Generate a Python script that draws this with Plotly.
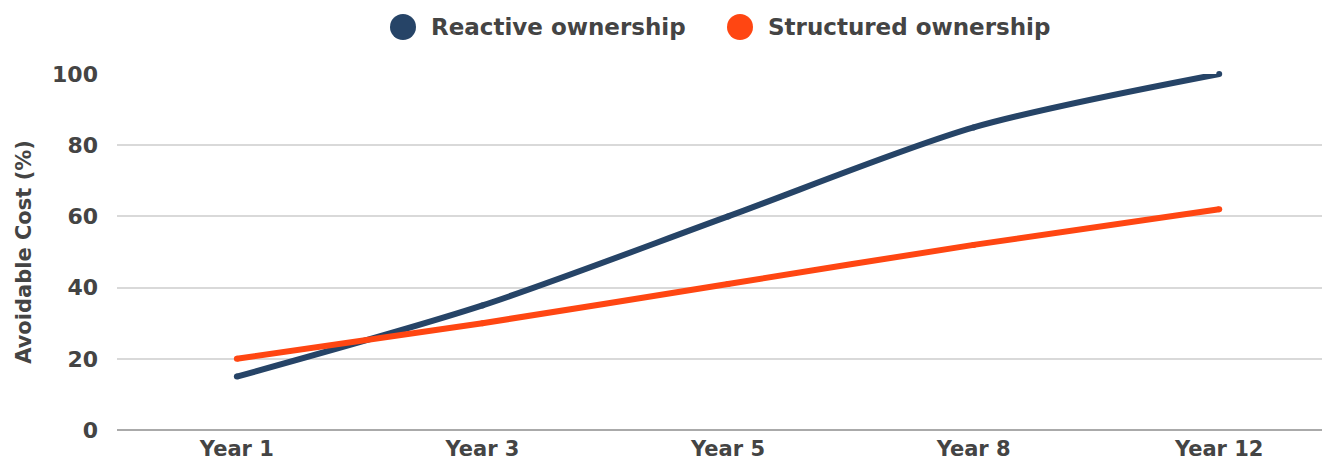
import plotly.graph_objects as go

categories = ["Year 1", "Year 3", "Year 5", "Year 8", "Year 12"]
reactive = [15, 35, 60, 85, 100]
structured = [20, 30, 41, 52, 62]
series_names = ["Reactive ownership", "Structured ownership"]
colors = ["#264467", "#FF4612"]
y_ticks = [0, 20, 40, 60, 80, 100]

FONT = "DejaVu Sans"
TXT = "#444444"

# page body has an 8px margin; figure sized to fit the 1330x463 window
W, H = 1322, 455
L, R, T, B = 109, 2, 66, 33
PW = W - L - R
PH = H - T - B

fig = go.Figure()
for name, vals, col in zip(series_names, [reactive, structured], colors):
    fig.add_trace(go.Scatter(
        x=categories, y=vals, mode="lines+markers", name=name,
        line=dict(color=col, width=6, shape="spline", smoothing=0.8),
        marker=dict(color=col, size=6), cliponaxis=False,
        showlegend=False, hoverinfo="skip"))

# custom legend (large dots + bold labels) above the plot
leg_y = 1 + 47 / PH
dot_x = [286 / PW, 623 / PW]
txt_x = [312 / PW, 649 / PW]
shapes, annotations = [], []
for name, col, dx, tx in zip(series_names, colors, dot_x, txt_x):
    shapes.append(dict(type="circle", xref="paper", yref="paper",
                       xsizemode="pixel", ysizemode="pixel",
                       xanchor=dx, yanchor=leg_y,
                       x0=-13, x1=13, y0=-13, y1=13,
                       fillcolor=col, line=dict(width=0)))
    annotations.append(dict(text=name, xref="paper", yref="paper",
                            x=tx, y=leg_y, xanchor="left", yanchor="middle",
                            showarrow=False,
                            font=dict(family=FONT, size=23, color=TXT, weight="bold")))

fig.update_layout(
    width=W, height=H,
    margin=dict(l=L, r=R, t=T, b=B, autoexpand=False),
    paper_bgcolor="white", plot_bgcolor="white",
    font=dict(family=FONT, color=TXT, size=20),
    showlegend=False,
    shapes=shapes, annotations=annotations,
)
fig.update_xaxes(
    type="category", range=[-0.488, 4.443], automargin=False,
    showgrid=False, showline=False, zeroline=False, ticks="",
    ticklabelstandoff=4,
    tickfont=dict(family=FONT, size=21, color=TXT, weight="bold"),
)
fig.update_yaxes(
    range=[0, 100], tickvals=y_ticks, automargin=False,
    showgrid=True, gridcolor="#d9d9d9", gridwidth=2,
    zeroline=True, zerolinecolor="#aaaaaa", zerolinewidth=2,
    showline=False, ticks="", ticklabelstandoff=18,
    tickfont=dict(family=FONT, size=22, color=TXT, weight="bold"),
    title=dict(text="Avoidable Cost (%)", standoff=14,
               font=dict(family=FONT, size=21, color=TXT, weight="bold")),
)

fig.write_html("out.html")
